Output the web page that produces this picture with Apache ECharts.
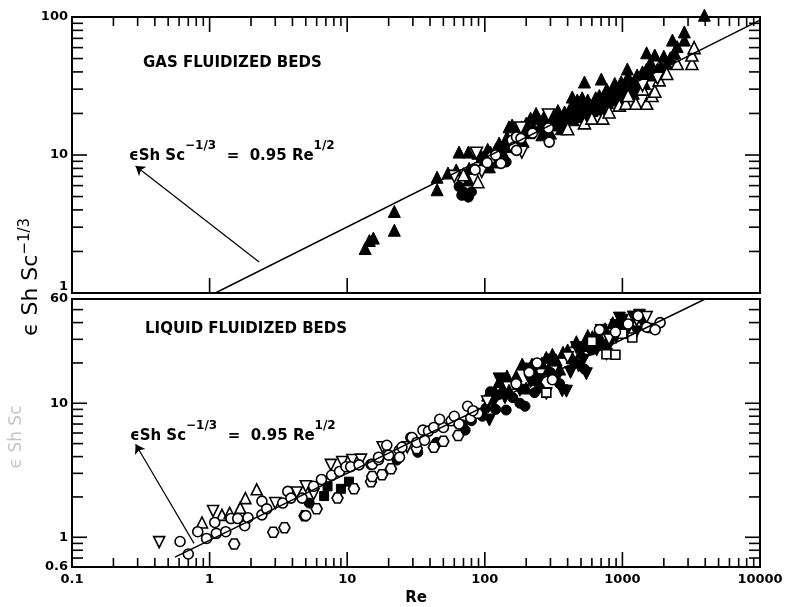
<!DOCTYPE html>
<html>
<head>
<meta charset="utf-8">
<script src="https://cdn.jsdelivr.net/npm/echarts@6/dist/echarts.min.js"></script>
<style>
  html, body { margin: 0; padding: 0; background: #fff; }
  #chart { width: 801px; height: 607px; }
</style>
</head>
<body>
<div id="chart"></div>
<script>
// axis ticks (log scales)
const reMajorTicks = [0.1, 1, 10, 100, 1000, 10000];
const reMinorTicks = [0.2, 0.3, 0.4, 0.5, 0.6, 0.7, 0.8, 0.9,
  2, 3, 4, 5, 6, 7, 8, 9, 20, 30, 40, 50, 60, 70, 80, 90,
  200, 300, 400, 500, 600, 700, 800, 900, 2000, 3000, 4000, 5000, 6000, 7000, 8000, 9000];
const gasMajorTicks = [1, 10, 100];
const gasMinorTicks = [2, 3, 4, 5, 6, 7, 8, 9, 20, 30, 40, 50, 60, 70, 80, 90];
const liqMajorTicks = [1, 10];
const liqMinorTicks = [0.7, 0.8, 0.9, 2, 3, 4, 5, 6, 7, 8, 9, 20, 30, 40, 50];

// correlation line  eSh Sc^-1/3 = 0.95 Re^1/2  (end points)
const gasFitLine = [[1.1, 1.0], [10000, 95]];
const liqFitLine = [[0.56, 0.71], [4000, 60]];
const gasArrow = [[2.29, 1.68], [0.29, 8.33]];
const liqArrow = [[0.77, 0.9], [0.29, 4.94]];

// gas fluidized beds  [Re, eSh Sc^-1/3]
const gasFilledTri = [[13.5, 2.1], [14.5, 2.4], [15.5, 2.5], [22, 2.85], [22, 3.9],
  [45, 6.9], [45, 5.6], [54, 7.4], [62, 7.8], [77, 8.0], [65, 10.5], [76, 10.5], [89, 10.3], [76, 6.6],
  [95, 9.7], [100, 9.2], [108, 8.2], [114, 9.7], [127, 12.2], [150, 16], [158, 16.5], [120, 11], [135, 10.5],
  [110, 10.5], [140, 12], [180, 14], [190, 12.5], [170, 15], [115, 8.9],
  [105, 11], [118, 9.6], [130, 9.8], [145, 13.5], [155, 11.5], [165, 12.2], [175, 11.8], [185, 16],
  [195, 15], [205, 16], [215, 18.5], [225, 15.8], [245, 18.5], [265, 17], [285, 15.2], [310, 18],
  [340, 21], [370, 17.5], [390, 18.5], [410, 19.5], [450, 21], [470, 25], [490, 20.5], [510, 26],
  [550, 23], [570, 21], [620, 24], [680, 27], [730, 26], [770, 30], [820, 28], [880, 33], [920, 29.5],
  [980, 34], [1020, 31], [1100, 37], [1180, 33], [1280, 38], [1380, 34], [1500, 42], [1650, 40],
  [1900, 44], [2000, 52], [2400, 55],
  [236, 20], [290, 17.9], [300, 14.4], [200, 17], [210, 14.5], [250, 16], [270, 19], [260, 14], [330, 19],
  [320, 16.5], [350, 18], [360, 15.5], [380, 20.5], [420, 22], [432, 26.3], [440, 18], [460, 19], [480, 23.5],
  [520, 22], [540, 19.5], [560, 25], [580, 23], [600, 21], [640, 26], [660, 22.5], [700, 24.5], [720, 21.5],
  [750, 28], [780, 24], [800, 27], [850, 25], [860, 30], [900, 27], [950, 31], [1000, 29], [1000, 26],
  [1050, 33], [1150, 31], [1200, 28], [1250, 35], [1300, 31], [1350, 36], [1400, 40], [1450, 33],
  [1600, 38], [1800, 42],
  [530, 33.8], [703, 35.5], [1087, 42], [1500, 55], [1720, 53], [1600, 47], [2230, 50.6], [2100, 46],
  [2310, 68], [2820, 78], [2820, 68], [2500, 61], [3945, 103]];
const gasOpenTri = [[89, 6.4], [108, 9.7], [70, 7.2], [530, 17.1], [600, 18.5], [720, 18.5], [950, 23],
  [1060, 23.7], [1250, 23.7], [1500, 23.7], [1640, 27], [1720, 29], [1850, 35], [2100, 39], [2500, 46],
  [3200, 46], [3200, 53], [3320, 60], [400, 15.5], [800, 20.5], [1100, 27], [1400, 30]];
const gasOpenCircle = [[104, 8.8], [131, 8.7], [158, 12.8], [170, 13.5], [163, 11.4], [183, 13.2],
  [170, 10.8], [222, 14.4], [290, 15.7], [294, 12.4], [85, 7.8], [120, 10]];
const gasFilledCircle = [[65, 5.9], [70, 5.4], [76, 4.95], [68, 5.1], [80, 5.4], [143, 8.9], [100, 8.4]];
const gasOpenInvTri = [[87, 10.3], [186, 10.5], [183, 15.7], [290, 19.5], [1400, 32], [1800, 36],
  [95, 7.6], [60, 7.0]];

// liquid fluidized beds  [Re, eSh Sc^-1/3]
const liqOpenCircle = [[0.61, 0.93], [0.70, 0.75], [0.82, 1.10], [0.95, 0.98], [1.09, 1.29], [1.12, 1.07],
  [1.31, 1.10], [1.43, 1.38], [1.6, 1.38], [1.8, 1.22], [1.9, 1.40], [2.4, 1.47], [2.4, 1.86], [2.6, 1.63],
  [3.4, 1.8], [3.7, 2.2], [3.9, 1.96], [4.7, 1.96], [5.0, 1.45], [5.7, 2.4], [6.5, 2.7], [7.7, 2.9],
  [8.8, 3.1], [9.8, 3.36], [10.6, 3.36], [12.2, 3.47], [14.9, 3.5], [15.2, 3.5], [16.9, 3.8], [16.9, 3.96],
  [19.4, 4.86], [20, 4.1], [23.9, 4.46], [24, 3.96], [25, 4.7], [29, 5.55], [29.6, 5.55], [32, 5.1],
  [35.5, 6.3], [36.5, 5.3], [39, 6.2], [42.6, 6.6], [50, 6.6], [57, 7.4], [75, 9.5], [79, 7.8], [89, 8.4],
  [82, 8.8], [60, 8.0], [47, 7.6], [65, 7.0], [169, 14], [210, 17], [240, 20], [310, 15],
  [681, 35.4], [890, 34], [1500, 37], [1880, 40], [1730, 35.4], [1100, 39], [1300, 45]];
const liqOpenHex = [[1.51, 0.89], [2.9, 1.09], [3.5, 1.18], [4.9, 1.45], [6.0, 1.63], [8.5, 1.96],
  [11.2, 2.3], [14.9, 2.6], [17.9, 2.93], [20.8, 3.24], [15.2, 2.84], [42.6, 4.7], [64, 5.75], [50, 5.2], [32, 4.6]];
const liqOpenTri = [[0.88, 1.29], [1.23, 1.47], [1.4, 1.52], [1.67, 1.66], [1.82, 1.96], [2.2, 2.28]];
const liqOpenInvTri = [[0.43, 0.92], [1.06, 1.57], [3.0, 1.8], [4.3, 2.16], [5.0, 2.4], [5.7, 2.1],
  [7.6, 3.47], [9.2, 3.65], [10.9, 3.77], [12.6, 3.8], [18.1, 4.7], [27.3, 4.7], [104, 10.3],
  [1270, 41.7], [1500, 44], [800, 30], [400, 22]];
const liqFilledSquare = [[6.8, 2.03], [7.2, 2.4], [9.0, 2.3], [10.3, 2.6]];
const liqFilledCircle = [[5.3, 1.8], [23, 3.77], [32.6, 4.3], [44.6, 5.1], [69, 6.9], [72, 6.3], [96, 8.0],
  [102, 9.2], [110, 12.2], [143, 8.9], [196, 9.5], [160, 11], [250, 13], [300, 17], [450, 20], [600, 25], [80, 7.4],
  [120, 9], [180, 10], [230, 12], [350, 14], [530, 18], [750, 26]];
const liqFilledTri = [[127, 14.5], [169, 16], [187, 19.6], [220, 19.6], [280, 22], [310, 23.2], [200, 13],
  [240, 15], [350, 18], [463, 28.8], [605, 31.4], [500, 24], [700, 30], [120, 12], [150, 12.5], [400, 25],
  [105, 11.5], [135, 13], [145, 16], [175, 14], [230, 17], [260, 20], [290, 18], [330, 21], [370, 24],
  [430, 22], [530, 27], [560, 32], [650, 33], [750, 36], [850, 40], [950, 37]];
const liqFilledInvTri = [[108, 7.5], [127, 15.2], [200, 18], [280, 11.8], [365, 12.4], [392, 12.3],
  [547, 16.6], [300, 21], [463, 26], [605, 28], [766, 23.2], [951, 43.2], [1000, 41.7], [1265, 34.1],
  [1330, 45.4], [700, 35], [900, 38], [1100, 36], [250, 15], [420, 17], [800, 27],
  [115, 10], [140, 11], [180, 12.5], [215, 14.5], [330, 15], [480, 19], [520, 21], [650, 25], [1050, 38],
  [1200, 44], [1400, 40], [900, 31]];
const liqOpenSquare = [[280, 12], [766, 23.2], [890, 23], [1180, 31], [1652, 36.5], [600, 29], [1000, 33]];

const FONT = 'DejaVu Sans';
const HEX = 'path://M-5,-8.66L5,-8.66L10,0L5,8.66L-5,8.66L-10,0Z';

var myChart = echarts.init(document.getElementById('chart'));

function fmt(v) {
  return String(+Number(v).toPrecision(6));
}

// ticks on the frame of one panel, drawn through the axes' scales
function tickSeries(gi, xRef, yRef, yMajor, yMinor, xTop, xBottom) {
  const data = [];
  reMajorTicks.forEach(v => data.push([v, yRef, 0, 1]));
  reMinorTicks.forEach(v => data.push([v, yRef, 0, 0]));
  yMajor.forEach(v => data.push([xRef, v, 1, 1]));
  yMinor.forEach(v => data.push([xRef, v, 1, 0]));
  return {
    type: 'custom',
    xAxisIndex: gi,
    yAxisIndex: gi,
    silent: true,
    data: data,
    renderItem: function (params, api) {
      const cs = params.coordSys;
      const p = api.coord([api.value(0), api.value(1)]);
      const isY = api.value(2) === 1;
      const major = api.value(3) === 1;
      const lines = [];
      if (isY) {
        const len = major ? 15 : 11;
        lines.push([cs.x, p[1], cs.x + len, p[1]]);
        lines.push([cs.x + cs.width, p[1], cs.x + cs.width - len, p[1]]);
      } else {
        const len = major ? 15 : 9;
        const b = cs.y + cs.height;
        if (xBottom === 'all' || (xBottom === 'major' && major)) lines.push([p[0], b, p[0], b - len]);
        if (xTop === 'all' || (xTop === 'major' && major)) lines.push([p[0], cs.y, p[0], cs.y + len]);
      }
      return {
        type: 'group',
        children: lines.map(l => ({
          type: 'line',
          shape: { x1: l[0], y1: l[1], x2: l[2], y2: l[3] },
          style: { stroke: '#000', lineWidth: 1.6 }
        }))
      };
    }
  };
}

function scatter(data, gi, symbol, filled, size, rotate) {
  return {
    type: 'scatter',
    xAxisIndex: gi,
    yAxisIndex: gi,
    data: data,
    symbol: symbol,
    symbolSize: size,
    symbolRotate: rotate || 0,
    clip: false,
    silent: true,
    itemStyle: filled
      ? { color: '#000', borderColor: '#000', borderWidth: 1, opacity: 1 }
      : { color: '#fff', borderColor: '#000', borderWidth: 1.6, opacity: 1 }
  };
}

function fitSeries(data, arrow, gi) {
  return {
    type: 'line',
    xAxisIndex: gi,
    yAxisIndex: gi,
    data: data,
    symbol: 'none',
    silent: true,
    lineStyle: { color: '#000', width: 1.4 },
    markLine: {
      silent: true,
      symbol: ['none', 'arrow'],
      symbolSize: 9,
      label: { show: false },
      lineStyle: { color: '#000', width: 1.2, type: 'solid' },
      data: [[{ coord: arrow[0] }, { coord: arrow[1] }]]
    }
  };
}

const labelStyle = { color: '#000', fontFamily: FONT, fontWeight: 'bold', fontSize: 13 };

const eqRich = {
  m: { fontFamily: FONT, fontWeight: 'bold', fontSize: 15, color: '#000', lineHeight: 24, verticalAlign: 'bottom' },
  s: { fontFamily: FONT, fontWeight: 'bold', fontSize: 12, color: '#000', lineHeight: 12, verticalAlign: 'top' }
};
const eqText = '{m|ϵSh Sc}{s|−1/3}{m|  =  0.95 Re}{s|1/2}';

option = {
  backgroundColor: '#fff',
  animation: false,
  grid: [
    { left: 72, top: 17, width: 688, height: 276, show: true, borderColor: '#000', borderWidth: 2, backgroundColor: 'transparent' },
    { left: 72, top: 299, width: 688, height: 274, show: true, borderColor: '#000', borderWidth: 2, backgroundColor: 'transparent' }
  ],
  xAxis: [
    {
      gridIndex: 0, type: 'log', min: 0.1, max: 10000,
      axisLine: { show: false }, axisTick: { show: false }, splitLine: { show: false },
      axisLabel: { show: false }
    },
    {
      gridIndex: 1, type: 'log', min: 0.1, max: 10000,
      axisLine: { show: false }, axisTick: { show: false }, splitLine: { show: false },
      axisLabel: Object.assign({ margin: 6, formatter: fmt }, labelStyle),
      name: 'Re', nameLocation: 'middle', nameGap: 24,
      nameTextStyle: { color: '#000', fontFamily: FONT, fontWeight: 'bold', fontSize: 15 }
    }
  ],
  yAxis: [
    {
      gridIndex: 0, type: 'log', min: 1, max: 100,
      axisLine: { show: false }, axisTick: { show: false }, splitLine: { show: false },
      axisLabel: Object.assign({
        margin: 4,
        formatter: function (v) {
          const s = fmt(v);
          return s === '1' ? '{lo|1}' : s;
        },
        rich: { lo: Object.assign({ padding: [0, 0, 12, 0] }, labelStyle) }
      }, labelStyle)
    },
    {
      gridIndex: 1, type: 'log', min: 0.6, max: 60,
      axisLine: { show: false }, axisTick: { show: false }, splitLine: { show: false },
      axisLabel: Object.assign({ margin: 4, formatter: fmt }, labelStyle)
    }
  ],
  graphic: [
    {
      type: 'text', x: 143, y: 63,
      style: { text: 'GAS FLUIDIZED BEDS', fill: '#000', font: 'bold 15px "DejaVu Sans"', verticalAlign: 'middle' }
    },
    {
      type: 'text', x: 145, y: 329,
      style: { text: 'LIQUID FLUIDIZED BEDS', fill: '#000', font: 'bold 15px "DejaVu Sans"', verticalAlign: 'middle' }
    },
    {
      type: 'text', x: 129, y: 151.5,
      style: { text: eqText, rich: eqRich, verticalAlign: 'middle' }
    },
    {
      type: 'text', x: 130, y: 431.5,
      style: { text: eqText, rich: eqRich, verticalAlign: 'middle' }
    },
    {
      type: 'text', x: 30, y: 277, rotation: Math.PI / 2,
      style: {
        text: '{m|ϵ Sh Sc}{s|−1/3}',
        align: 'center', verticalAlign: 'middle',
        rich: {
          m: { fontFamily: FONT, fontSize: 22, color: '#000', lineHeight: 24, verticalAlign: 'bottom' },
          s: { fontFamily: FONT, fontSize: 15, color: '#000', lineHeight: 15, verticalAlign: 'top' }
        }
      }
    },
    {
      type: 'text', x: 17, y: 437, rotation: Math.PI / 2,
      style: { text: 'ϵ Sh Sc', fill: '#c4c4c4', font: '17px "DejaVu Sans"', align: 'center', verticalAlign: 'middle' }
    }
  ],
  series: [
    tickSeries(0, 0.1, 1, gasMajorTicks, gasMinorTicks, 'all', 'major'),
    tickSeries(1, 0.1, 0.6, liqMajorTicks, liqMinorTicks, 'none', 'all'),
    fitSeries(gasFitLine, gasArrow, 0),
    fitSeries(liqFitLine, liqArrow, 1),
    // gas panel
    scatter(gasFilledTri, 0, 'triangle', true, 12),
    scatter(gasFilledCircle, 0, 'circle', true, 10),
    scatter(gasOpenTri, 0, 'triangle', false, 12),
    scatter(gasOpenInvTri, 0, 'triangle', false, 12, 180),
    scatter(gasOpenCircle, 0, 'circle', false, 10),
    // liquid panel
    scatter(liqFilledTri, 1, 'triangle', true, 12),
    scatter(liqFilledInvTri, 1, 'triangle', true, 12, 180),
    scatter(liqFilledCircle, 1, 'circle', true, 10),
    scatter(liqFilledSquare, 1, 'rect', true, 9),
    scatter(liqOpenSquare, 1, 'rect', false, 9),
    scatter(liqOpenHex, 1, HEX, false, [11, 10]),
    scatter(liqOpenTri, 1, 'triangle', false, 11),
    scatter(liqOpenInvTri, 1, 'triangle', false, 11, 180),
    scatter(liqOpenCircle, 1, 'circle', false, 10)
  ]
};

option && myChart.setOption(option);
</script>
</body>
</html>
